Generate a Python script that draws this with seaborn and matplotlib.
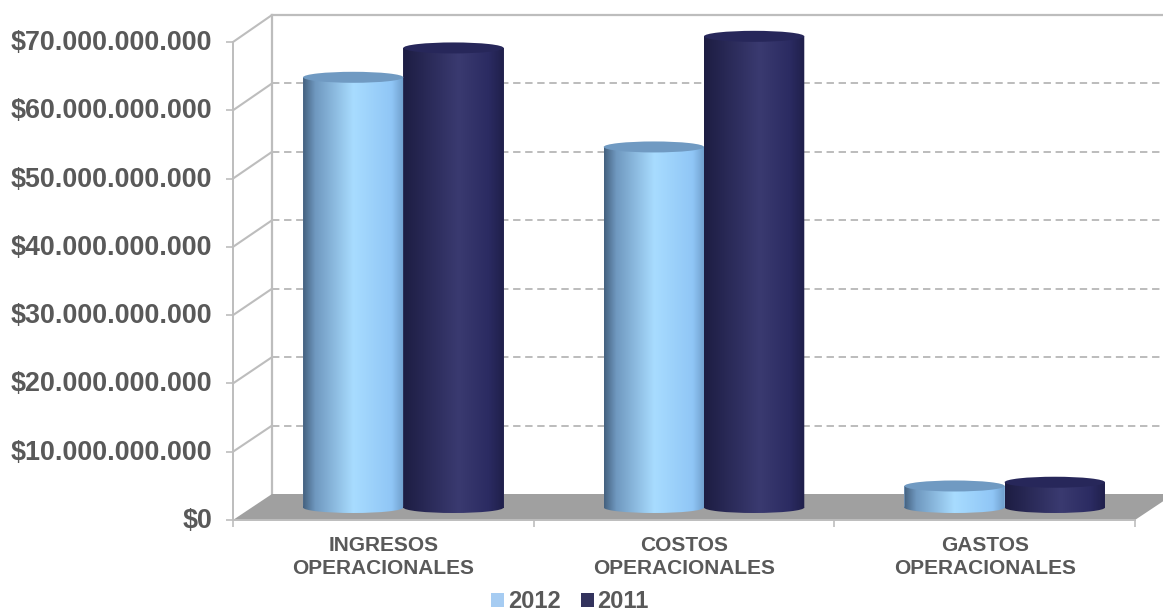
import numpy as np
import pandas as pd
import matplotlib
matplotlib.use('Agg')
import matplotlib.pyplot as plt
import seaborn as sns
from matplotlib.colors import LinearSegmentedColormap
from matplotlib.lines import Line2D
from matplotlib.patches import Ellipse, Polygon
from matplotlib.path import Path
from matplotlib.ticker import FuncFormatter, FixedLocator
from matplotlib.transforms import Affine2D, ScaledTranslation

categories = ['INGRESOS\nOPERACIONALES', 'COSTOS\nOPERACIONALES', 'GASTOS\nOPERACIONALES']
years = ['2012', '2011']
values_2012 = [63.0e9, 52.8e9, 3.15e9]
values_2011 = [67.3e9, 69.0e9, 3.7e9]
y_ticks = [0, 10e9, 20e9, 30e9, 40e9, 50e9, 60e9, 70e9]

W, H = 1163, 612
GREY_TXT = '#595959'
GREY_LINE = '#bdbdbd'

sns.set_theme(style='white')
plt.rcParams['font.family'] = ['Liberation Sans', 'DejaVu Sans']

df = pd.DataFrame({'cat': categories * 2,
                   'year': [years[0]] * 3 + [years[1]] * 3,
                   'val': values_2012 + values_2011})


def px_axes(fig, left, right, top, bottom, z):
    a = fig.add_axes([left / W, 1 - bottom / H, (right - left) / W, (bottom - top) / H], zorder=z)
    a.patch.set_visible(False)
    a.set_xlim(-0.5, 2.5)
    a.set_ylim(0, 70e9)
    return a


fig = plt.figure(figsize=(W / 100, H / 100), dpi=100, facecolor='white')
ax_back = px_axes(fig, 272, 1174, 15, 494, 1)
ax_front = px_axes(fig, 233, 1135, 42, 520, 2)
ax = px_axes(fig, 253, 1155, 29.5, 507.5, 3)

# back wall
ax_back.set_xticks([])
ax_back.set_yticks(y_ticks[1:-1])
ax_back.set_yticklabels([])
ax_back.tick_params(left=False)
ax_back.grid(axis='y', color='#bcbcbc', lw=1.4, linestyle=(0, (3.8, 2.4)))
for s in ['right', 'bottom']:
    ax_back.spines[s].set_visible(False)
for s in ['left', 'top']:
    ax_back.spines[s].set_color(GREY_LINE)
    ax_back.spines[s].set_linewidth(1.6)

# front axis
ax_front.yaxis.set_major_locator(FixedLocator(y_ticks))
ax_front.yaxis.set_major_formatter(FuncFormatter(lambda v, p: '$' + f'{v:,.0f}'.replace(',', '.')))
ax_front.tick_params(axis='y', length=5, width=1.2, color=GREY_LINE, pad=10, left=True,
                     labelsize=19.4, labelcolor=GREY_TXT)
up = ScaledTranslation(0, 2 / 100, fig.dpi_scale_trans)
for t in ax_front.get_yticklabels():
    t.set_fontweight('bold')
    t.set_transform(t.get_transform() + up)
ax_front.set_xticks([0, 1, 2])
ax_front.set_xticklabels(categories, fontsize=15, fontweight='bold', color=GREY_TXT, linespacing=1.3)
ax_front.set_xticks([-0.5, 0.5, 1.5, 2.5], minor=True)
ax_front.tick_params(axis='x', which='major', length=0, pad=11.5)
ax_front.tick_params(axis='x', which='minor', length=5, width=1.2, color=GREY_LINE, bottom=True)
for s in ['right', 'top']:
    ax_front.spines[s].set_visible(False)
for s in ['left', 'bottom']:
    ax_front.spines[s].set_color(GREY_LINE)
    ax_front.spines[s].set_linewidth(1.4)


def to_fig(a, x, y):
    return fig.transFigure.inverted().transform(a.transData.transform((x, y)))


# floor and the slanted wall edges
floor = [to_fig(ax_front, -0.5, 0), to_fig(ax_back, -0.5, 0), to_fig(ax_back, 2.5, 0), to_fig(ax_front, 2.5, 0)]
fig.add_artist(Polygon(floor, closed=True, transform=fig.transFigure, fc='#a0a0a0', ec='none', zorder=1.5))
for yv in y_ticks[1:]:
    p0, p1 = to_fig(ax_front, -0.5, yv), to_fig(ax_back, -0.5, yv)
    fig.add_artist(Line2D([p0[0], p1[0]], [p0[1], p1[1]], transform=fig.transFigure,
                          color=GREY_LINE, lw=1.5, zorder=1.5))

# cylinders
sns.barplot(data=df, x='cat', y='val', hue='year', hue_order=years,
            palette=['#99ccff', '#2c2c64'], width=0.667, gap=0, ax=ax, linewidth=0)
handles, labels = ax.get_legend_handles_labels()
ax.get_legend().remove()
ax.set_xlim(-0.5, 2.5)
ax.set_ylim(0, 70e9)
ax.set_axis_off()

cm_light = LinearSegmentedColormap.from_list('light', [(0, '#44617f'), (0.12, '#6f98bf'), (0.5, '#a8dcff'),
                                                       (0.88, '#90c6f6'), (1, '#6f9ecb')])
cm_dark = LinearSegmentedColormap.from_list('dark', [(0, '#1d1d42'), (0.25, '#2a2a58'), (0.55, '#3a3a70'),
                                                     (0.85, '#2b2b62'), (1, '#1f1f4a')])
grad = np.linspace(0, 1, 256)[None, :]
ell_h = 11 * 70e9 / 478  # ellipse height, 11 px

for container, cmap, top_col in zip(ax.containers, [cm_light, cm_dark], ['#709ac2', '#27275a']):
    for bar in container:
        x0, w, h = bar.get_x(), bar.get_width(), bar.get_height()
        rect = Path([(x0, 0), (x0 + w, 0), (x0 + w, h), (x0, h), (x0, 0)], closed=True)
        circ = Path.unit_circle().transformed(Affine2D().scale(w / 2, ell_h / 2).translate(x0 + w / 2, 0))
        clip = Path.make_compound_path(rect, circ)
        im = ax.imshow(grad, cmap=cmap, aspect='auto', extent=(x0, x0 + w, -ell_h, h), zorder=4,
                       interpolation='bilinear')
        im.set_clip_box(fig.bbox)
        im.set_clip_path(clip, ax.transData)
        ax.add_patch(Ellipse((x0 + w / 2, h), w, ell_h, fc=top_col, ec='none', zorder=4.1, clip_on=False))

fig.legend(handles, labels, ncol=2, loc='center', bbox_to_anchor=(570 / W, 1 - 601.5 / H), frameon=False,
           handlelength=0.55, handleheight=0.55, handletextpad=0.15, columnspacing=0.85, borderpad=0,
           prop={'size': 17, 'weight': 'bold', 'family': ['Liberation Sans']}, labelcolor=GREY_TXT)

fig.savefig('out.png', dpi=100)
